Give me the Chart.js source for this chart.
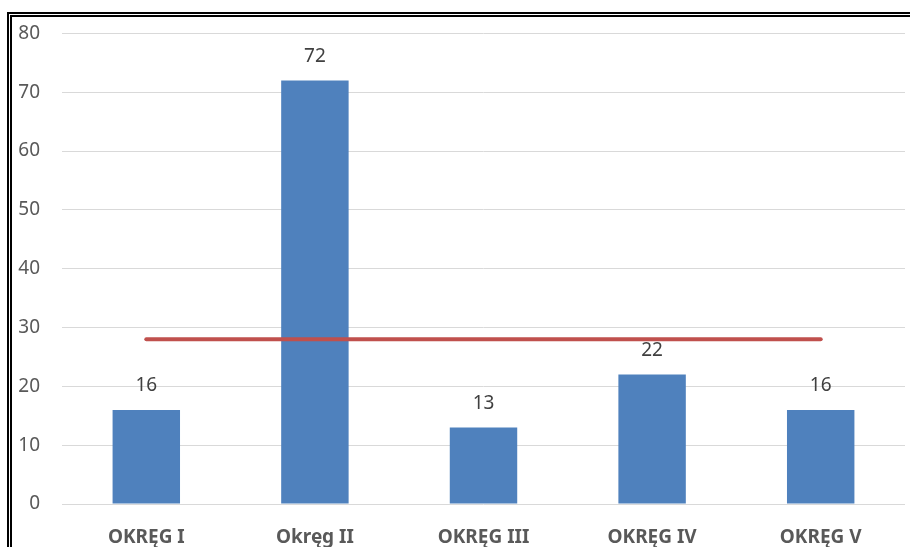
<!DOCTYPE html>
<html lang="pl">
<head>
    <meta charset="UTF-8">
    <title>Okręgi</title>
    <script src="https://cdn.jsdelivr.net/npm/chart.js"></script>
    <style>
        html, body {
            margin: 0;
            padding: 0;
            background: #fff;
            overflow: hidden;
        }
        .frame {
            position: absolute;
            left: 7px;
            top: 12px;
            width: 940px;
            height: 580px;
            border: 5px double #000;
            box-sizing: border-box;
        }
        .wrap {
            position: absolute;
            left: 0;
            top: 0;
            width: 910px;
            height: 547px;
        }
    </style>
</head>
<body>
    <div class="frame"></div>
    <div class="wrap">
        <canvas id="chart" width="910" height="547"></canvas>
    </div>
    <script>
        const categories = ['OKRĘG I', 'Okręg II', 'OKRĘG III', 'OKRĘG IV', 'OKRĘG V'];
        const counts = [16, 72, 13, 22, 16];
        const average = [28, 28, 28, 28, 28];
        const yTicks = [0, 10, 20, 30, 40, 50, 60, 70, 80];

        const FONT = "'Noto Sans', sans-serif";

        // value labels above the bars
        const barLabels = {
            id: 'barLabels',
            afterDatasetsDraw(chart) {
                const ctx = chart.ctx;
                const meta = chart.getDatasetMeta(1);
                ctx.save();
                ctx.font = '19px ' + FONT;
                ctx.fillStyle = '#404040';
                ctx.textAlign = 'center';
                ctx.textBaseline = 'middle';
                meta.data.forEach((bar, i) => {
                    ctx.fillText(String(counts[i]), bar.x, bar.y - 24);
                });
                ctx.restore();
            }
        };

        new Chart(document.getElementById('chart'), {
            data: {
                labels: categories,
                datasets: [{
                    type: 'line',
                    data: average,
                    borderColor: '#C0504D',
                    borderWidth: 4,
                    borderCapStyle: 'round',
                    pointRadius: 0,
                    order: 0
                }, {
                    type: 'bar',
                    data: counts,
                    backgroundColor: '#4F81BD',
                    borderWidth: 0,
                    categoryPercentage: 1,
                    barPercentage: 0.4,
                    order: 1
                }]
            },
            options: {
                responsive: false,
                animation: false,
                layout: {
                    padding: { top: 32, right: 5, left: 0, bottom: 0 }
                },
                plugins: {
                    legend: { display: false },
                    tooltip: { enabled: false }
                },
                scales: {
                    x: {
                        grid: { display: false },
                        border: { display: false },
                        ticks: {
                            color: '#595959',
                            font: { family: FONT, size: 19, weight: 'bold' },
                            padding: 14,
                            maxRotation: 0
                        },
                        afterFit(scale) { scale.height = 43; }
                    },
                    y: {
                        min: 0,
                        max: 80,
                        afterBuildTicks(scale) {
                            scale.ticks = yTicks.map(v => ({ value: v }));
                        },
                        grid: { color: '#d9d9d9', lineWidth: 1, drawTicks: false },
                        border: { display: false },
                        ticks: {
                            color: '#595959',
                            font: { family: FONT, size: 19 },
                            padding: 22
                        },
                        afterFit(scale) { scale.width = 62; }
                    }
                }
            },
            plugins: [barLabels]
        });
    </script>
</body>
</html>
